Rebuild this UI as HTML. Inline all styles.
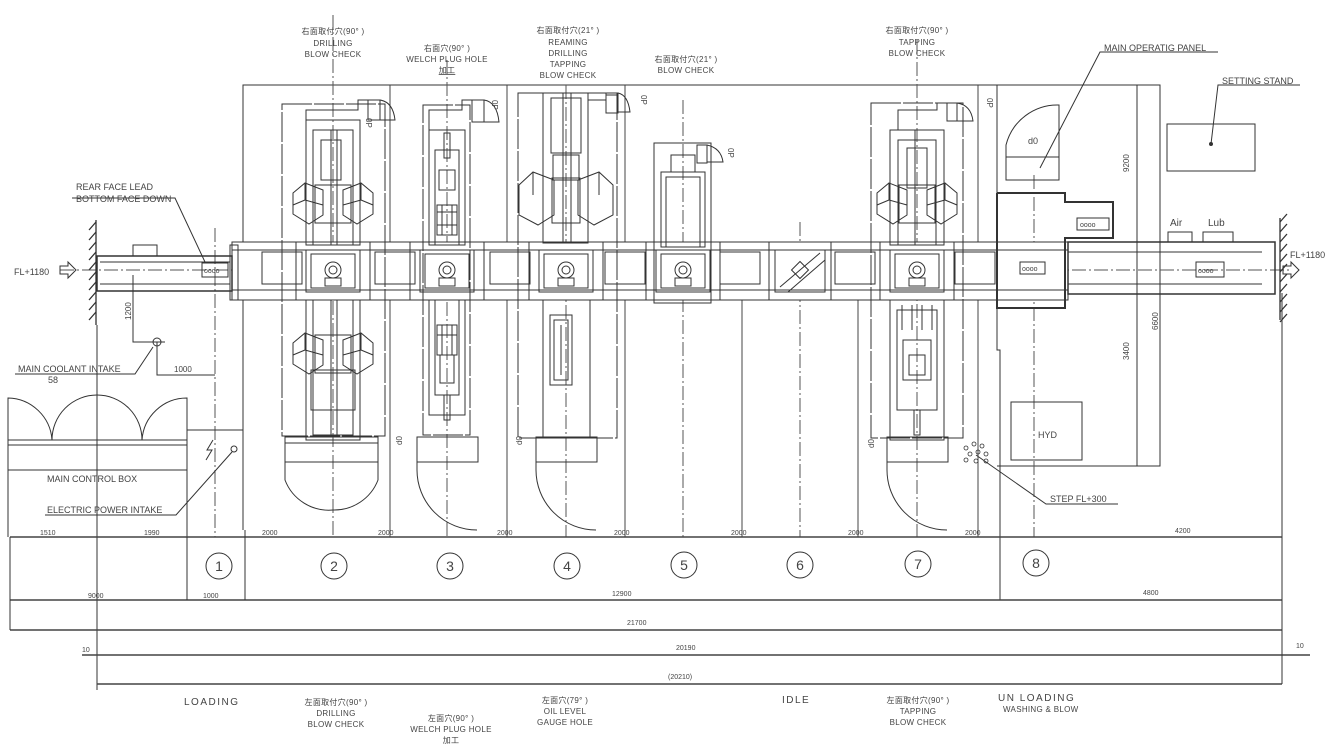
<!DOCTYPE html>
<html><head><meta charset="utf-8"><style>
html,body{margin:0;padding:0;background:#fff;}
svg{display:block}
text{font-family:"Liberation Sans Narrow","Liberation Sans","Noto Sans CJK JP",sans-serif;fill:#444;stroke:none}
.s{font-size:8px;letter-spacing:0.3px}
.m{font-size:10px;letter-spacing:1.5px}
</style></head><body>
<svg width="1334" height="744" viewBox="0 0 1334 744" xmlns="http://www.w3.org/2000/svg" fill="none" stroke="#333" stroke-width="1">
<defs>
<g id="hexT">
<polygon points="-40,193 -28,183 -10,190 -10,215 -24,224 -40,214"/>
<polygon points="40,193 28,183 10,190 10,215 24,224 40,214"/>
<line x1="-28" y1="183" x2="-28" y2="200"/><line x1="-28" y1="200" x2="-10" y2="205"/><line x1="-28" y1="200" x2="-40" y2="205"/>
<line x1="28" y1="183" x2="28" y2="200"/><line x1="28" y1="200" x2="10" y2="205"/><line x1="28" y1="200" x2="40" y2="205"/>
<rect x="-18" y="185" width="36" height="38"/>
</g>
<g id="body">
<rect x="-37" y="242" width="74" height="58"/>
<rect x="-27" y="250" width="54" height="42"/>
<rect x="-22" y="254" width="44" height="34"/>
<circle cx="0" cy="270" r="8"/><circle cx="0" cy="270" r="4"/>
<rect x="-8" y="278" width="16" height="8"/>
</g>
</defs>

<!-- top frame -->
<polyline points="243,530 243,85 1160,85 1160,466 997,466"/>
<line x1="1137" y1="85" x2="1137" y2="466"/>
<line x1="997" y1="85" x2="997" y2="193"/>
<g stroke-dasharray="14,3,2,3" stroke="#555">
<line x1="333" y1="15" x2="333" y2="537"/><line x1="447" y1="60" x2="447" y2="537"/>
<line x1="566" y1="85" x2="566" y2="537"/><line x1="683" y1="100" x2="683" y2="537"/>
<line x1="800" y1="222" x2="800" y2="537"/><line x1="917" y1="40" x2="917" y2="537"/>
<line x1="1034" y1="175" x2="1034" y2="537"/><line x1="215" y1="228" x2="215" y2="537"/>
<line x1="60" y1="270" x2="1290" y2="270"/>
</g>
<g stroke="#444"><line x1="390" y1="85" x2="390" y2="537"/><line x1="507" y1="85" x2="507" y2="537"/><line x1="625" y1="85" x2="625" y2="537"/>
<line x1="742" y1="300" x2="742" y2="537"/><line x1="858" y1="300" x2="858" y2="537"/><line x1="978" y1="85" x2="978" y2="537"/></g>

<!-- main conveyor -->
<rect x="232" y="242" width="836" height="58" fill="#fff"/>
<line x1="232" y1="250" x2="1068" y2="250"/><line x1="232" y1="290" x2="1068" y2="290"/>
<g>
<rect x="262" y="252" width="40" height="32"/><rect x="375" y="252" width="40" height="32"/><rect x="490" y="252" width="40" height="32"/>
<rect x="605" y="252" width="40" height="32"/><rect x="720" y="252" width="40" height="32"/><rect x="835" y="252" width="40" height="32"/><rect x="955" y="252" width="40" height="32"/>
</g>

<!-- Station 2 -->
<g transform="translate(333,0)">
<rect x="-51" y="104" width="103" height="332" stroke-dasharray="30,2"/>
<rect x="-27" y="120" width="54" height="125"/><rect x="-20" y="130" width="40" height="115"/>
<rect x="-12" y="140" width="20" height="40"/><line x1="-2" y1="130" x2="-2" y2="245"/><line x1="4" y1="130" x2="4" y2="245"/>
<path d="M-27,120 V110 H25 V100 H35"/><rect x="35" y="100" width="12" height="20"/>
<path d="M47,100 Q60,102 62,120 H47"/>
<use href="#hexT"/>
<use href="#body"/>
<rect x="-27" y="300" width="54" height="140"/><rect x="-20" y="300" width="40" height="135"/>
<g transform="translate(0,150)"><use href="#hexT"/></g>
<rect x="-22" y="370" width="44" height="40"/><line x1="-2" y1="300" x2="-2" y2="437"/><line x1="4" y1="300" x2="4" y2="437"/>
<rect x="-48" y="437" width="93" height="25"/><line x1="-48" y1="443" x2="45" y2="443"/>
<path d="M-48,462 V480 A47,47 0 0 0 0,510 M45,462 V480 A47,47 0 0 1 0,510"/>
</g>
<text class="s" x="333" y="34" text-anchor="middle">右面取付穴(90° )</text>
<text class="s" x="333" y="46" text-anchor="middle">DRILLING</text>
<text class="s" x="333" y="57" text-anchor="middle">BLOW CHECK</text>
<text x="366" y="118" font-size="8" transform="rotate(90 366 118)">0P</text>

<!-- Station 3 -->
<g transform="translate(447,0)">
<rect x="-24" y="105" width="47" height="330" stroke-dasharray="30,2"/>
<rect x="-18" y="130" width="36" height="115"/><rect x="-12" y="150" width="24" height="95"/>
<rect x="-8" y="170" width="16" height="20"/><rect x="-10" y="205" width="20" height="30"/>
<line x1="-10" y1="212" x2="10" y2="212"/><line x1="-10" y1="225" x2="10" y2="225"/>
<line x1="-5" y1="205" x2="-5" y2="235"/><line x1="5" y1="205" x2="5" y2="235"/>
<rect x="-3" y="133" width="6" height="25"/>
<path d="M-18,130 V110 H15 V100 H25"/><rect x="25" y="100" width="12" height="22"/>
<path d="M37,100 Q50,102 52,122 H37"/>
<use href="#body"/>
<rect x="-18" y="300" width="36" height="115"/><rect x="-12" y="300" width="24" height="95"/>
<rect x="-10" y="325" width="20" height="30"/><line x1="-10" y1="335" x2="10" y2="335"/><rect x="-7" y="355" width="14" height="28"/>
<line x1="-5" y1="325" x2="-5" y2="355"/><line x1="5" y1="325" x2="5" y2="355"/>
<rect x="-3" y="395" width="6" height="25"/>
<rect x="-30" y="437" width="61" height="25"/>
<path d="M-30,462 V470 A60,60 0 0 0 30,530"/>
</g>
<text class="s" x="447" y="51" text-anchor="middle">右面穴(90° )</text>
<text class="s" x="447" y="62" text-anchor="middle">WELCH PLUG HOLE</text>
<text class="s" x="447" y="73" text-anchor="middle" text-decoration="underline">加工</text>
<text x="492" y="100" font-size="8" transform="rotate(90 492 100)">0P</text>
<text x="402" y="445" font-size="8" transform="rotate(-90 402 445)">d0</text>

<!-- Station 4 -->
<g transform="translate(566,0)">
<rect x="-48" y="93" width="99" height="345" stroke-dasharray="30,2"/>
<rect x="-23" y="93" width="45" height="150"/><rect x="-15" y="98" width="30" height="55"/>
<rect x="-13" y="155" width="26" height="25"/><line x1="-3" y1="93" x2="-3" y2="243"/><line x1="5" y1="93" x2="5" y2="243"/>
<path d="M22,100 H40 V95 H52"/><rect x="40" y="93" width="12" height="20"/><path d="M52,93 Q62,95 64,112 H52"/>
<polygon points="-47,185 -33,172 -12,180 -12,215 -28,225 -47,215"/>
<polygon points="47,185 33,172 12,180 12,215 28,225 47,215"/>
<line x1="-33" y1="172" x2="-33" y2="195"/><line x1="33" y1="172" x2="33" y2="195"/>
<rect x="-14" y="178" width="28" height="45"/>
<use href="#body"/>
<rect x="-23" y="300" width="47" height="138"/><rect x="-16" y="315" width="22" height="70"/><rect x="-12" y="320" width="14" height="60"/>
<line x1="-5" y1="325" x2="-5" y2="375"/>
<rect x="-30" y="437" width="61" height="25"/>
<path d="M-30,462 V470 A60,60 0 0 0 30,530"/>
</g>
<text class="s" x="568" y="33" text-anchor="middle">右面取付穴(21° )</text>
<text class="s" x="568" y="45" text-anchor="middle">REAMING</text>
<text class="s" x="568" y="56" text-anchor="middle">DRILLING</text>
<text class="s" x="568" y="67" text-anchor="middle">TAPPING</text>
<text class="s" x="568" y="78" text-anchor="middle">BLOW CHECK</text>
<text x="641" y="95" font-size="8" transform="rotate(90 641 95)">0P</text>
<text x="522" y="445" font-size="8" transform="rotate(-90 522 445)">d0</text>

<!-- Station 5 -->
<g transform="translate(683,0)">
<rect x="-29" y="143" width="57" height="160"/><rect x="-22" y="172" width="44" height="75"/><rect x="-17" y="177" width="34" height="70"/>
<rect x="-12" y="155" width="24" height="17"/><rect x="14" y="145" width="10" height="18"/><path d="M24,145 Q38,148 40,162 H24"/>
<use href="#body"/>
</g>
<text class="s" x="686" y="62" text-anchor="middle">右面取付穴(21° )</text>
<text class="s" x="686" y="73" text-anchor="middle">BLOW CHECK</text>
<text x="728" y="148" font-size="8" transform="rotate(90 728 148)">0P</text>

<!-- Station 6 -->
<g transform="translate(800,0)">
<rect x="-31" y="242" width="62" height="58"/><rect x="-25" y="250" width="50" height="42"/>
<line x1="-20" y1="287" x2="20" y2="253"/><line x1="-12" y1="292" x2="25" y2="260"/>
<rect x="-6" y="264" width="12" height="12" transform="rotate(45 0 270)"/>
</g>

<!-- Station 7 -->
<g transform="translate(917,0)">
<rect x="-46" y="103" width="92" height="335" stroke-dasharray="30,2"/>
<rect x="-27" y="130" width="54" height="115"/><rect x="-19" y="140" width="38" height="105"/>
<rect x="-10" y="148" width="20" height="40"/><line x1="-2" y1="130" x2="-2" y2="245"/>
<path d="M-19,130 V110 H20 V103 H30"/><rect x="30" y="103" width="10" height="18"/><path d="M40,103 Q54,105 56,121 H40"/>
<use href="#hexT"/>
<use href="#body"/>
<rect x="-27" y="300" width="54" height="140"/><rect x="-20" y="310" width="40" height="100"/>
<rect x="-14" y="340" width="28" height="40"/><rect x="-8" y="355" width="16" height="20"/>
<line x1="-15" y1="305" x2="-15" y2="330"/><line x1="-5" y1="305" x2="-5" y2="330"/><line x1="5" y1="305" x2="5" y2="330"/><line x1="15" y1="305" x2="15" y2="330"/>
<rect x="-3" y="410" width="6" height="25"/>
<rect x="-30" y="437" width="61" height="25"/>
<path d="M-30,462 V470 A60,60 0 0 0 30,530"/>
</g>
<text class="s" x="917" y="33" text-anchor="middle">右面取付穴(90° )</text>
<text class="s" x="917" y="45" text-anchor="middle">TAPPING</text>
<text class="s" x="917" y="56" text-anchor="middle">BLOW CHECK</text>
<text x="987" y="98" font-size="8" transform="rotate(90 987 98)">0P</text>
<text x="874" y="448" font-size="8" transform="rotate(-90 874 448)">d0</text>

<!-- Unloading station 8 -->
<path d="M1006,180 V145 A53,53 0 0 1 1059,105 V180 Z"/><line x1="1006" y1="157" x2="1059" y2="157"/>
<text x="1028" y="144" font-size="9">d0</text>
<polyline points="997,193 1065,193 1065,202 1113,202 1113,238 1065,238 1065,308 997,308 997,193" stroke-width="2"/>
<rect x="1077" y="218" width="32" height="12"/><text x="1080" y="227" font-size="7">oooo</text>
<rect x="1020" y="262" width="25" height="12"/><text x="1022" y="271" font-size="7">oooo</text>
<polyline points="997,308 997,350 1000,350 1000,600"/>
<rect x="1068" y="242" width="207" height="52" stroke-width="1.5"/>
<line x1="1068" y1="252" x2="1262" y2="252"/><line x1="1068" y1="284" x2="1262" y2="284"/>
<rect x="1196" y="262" width="28" height="15"/><text x="1198" y="273" font-size="7">oooo</text>
<rect x="1168" y="232" width="24" height="10"/><rect x="1203" y="232" width="30" height="10"/>
<text x="1170" y="226" font-size="10">Air</text><text x="1208" y="226" font-size="10">Lub</text>
<line x1="1282" y1="293" x2="1282" y2="537"/>
<g stroke-width="1.3"><line x1="1280" y1="218" x2="1280" y2="320"/>
<path d="M1280,222 l7,-8 M1280,232 l7,-8 M1280,242 l7,-8 M1280,252 l7,-8 M1280,262 l7,-8 M1280,272 l7,-8 M1280,282 l7,-8 M1280,292 l7,-8 M1280,302 l7,-8 M1280,312 l7,-8 M1280,322 l7,-8"/></g>
<path d="M1283,266 h8 v-4 l8,8 -8,8 v-4 h-8 z"/>
<text x="1290" y="258" font-size="9">FL+1180</text>
<rect x="1167" y="124" width="88" height="47"/><circle cx="1211" cy="144" r="1.5" fill="#333"/>
<polyline points="1211,144 1218,85 1300,85"/><text x="1222" y="84" font-size="9">SETTING STAND</text>
<polyline points="1040,168 1100,52 1218,52"/><text x="1104" y="51" font-size="9">MAIN OPERATIG PANEL</text>
<rect x="1011" y="402" width="71" height="58"/><text x="1038" y="438" font-size="9">HYD</text>
<g stroke-width="0.8"><circle cx="966" cy="448" r="2"/><circle cx="974" cy="444" r="2"/><circle cx="982" cy="446" r="2"/><circle cx="970" cy="454" r="2"/><circle cx="978" cy="452" r="2"/><circle cx="986" cy="454" r="2"/><circle cx="966" cy="460" r="2"/><circle cx="976" cy="461" r="2"/><circle cx="986" cy="461" r="2"/></g>
<polyline points="976,455 1046,504 1118,504"/><text x="1050" y="502" font-size="9">STEP FL+300</text>
<text x="1129" y="172" font-size="8" transform="rotate(-90 1129 172)">9200</text>
<text x="1129" y="360" font-size="8" transform="rotate(-90 1129 360)">3400</text>
<text x="1158" y="330" font-size="8" transform="rotate(-90 1158 330)">6600</text>

<!-- Left loading -->
<g stroke-width="1.3"><line x1="96" y1="220" x2="96" y2="325"/>
<path d="M96,222 l-7,8 M96,232 l-7,8 M96,242 l-7,8 M96,252 l-7,8 M96,262 l-7,8 M96,272 l-7,8 M96,282 l-7,8 M96,292 l-7,8 M96,302 l-7,8 M96,312 l-7,8"/></g>
<line x1="97" y1="325" x2="97" y2="690"/>
<rect x="97" y="256" width="135" height="35" stroke-width="1.5"/>
<line x1="100" y1="262" x2="230" y2="262"/><line x1="100" y1="284" x2="230" y2="284"/>
<rect x="133" y="245" width="24" height="11"/>
<rect x="202" y="263" width="26" height="14"/><text x="204" y="273" font-size="7">oooo</text>
<rect x="230" y="245" width="8" height="55"/>
<path d="M60,266 h8 v-4 l8,8 -8,8 v-4 h-8 z"/>
<text x="14" y="275" font-size="9">FL+1180</text>
<polyline points="205,262 175,198 72,198"/>
<text x="76" y="190" font-size="9">REAR FACE LEAD</text><text x="76" y="202" font-size="9">BOTTOM FACE DOWN</text>
<polyline points="133,275 133,342 165,342"/><circle cx="157" cy="342" r="4"/>
<text x="131" y="320" font-size="8" transform="rotate(-90 131 320)">1200</text>
<polyline points="157,342 157,375 215,375"/><text x="174" y="372" font-size="8">1000</text>
<polyline points="153,347 135,374 15,374"/><text x="18" y="372" font-size="9">MAIN COOLANT INTAKE</text><text x="48" y="383" font-size="9">58</text>
<path d="M8,440 V398 A45,45 0 0 1 52,440 A45,45 0 0 1 142,440 A45,45 0 0 1 187,398 V440"/>
<rect x="8" y="440" width="179" height="30"/><line x1="8" y1="445" x2="187" y2="445"/>
<line x1="8" y1="470" x2="8" y2="537"/>
<text x="47" y="482" font-size="9">MAIN CONTROL BOX</text>
<polyline points="187,430 243,430"/><line x1="187" y1="430" x2="187" y2="537"/>
<path d="M213,440 l-6,10 5,0 -6,10" /><circle cx="234" cy="449" r="3"/>
<polyline points="232,452 176,515 45,515"/><text x="47" y="513" font-size="9">ELECTRIC POWER INTAKE</text>

<!-- Dimension rows -->
<g stroke-width="1.5" stroke="#444">
<line x1="10" y1="537" x2="1282" y2="537"/>
<line x1="10" y1="600" x2="1282" y2="600"/>
<line x1="10" y1="630" x2="1282" y2="630"/>
<line x1="82" y1="655" x2="1310" y2="655"/>
<line x1="97" y1="684" x2="1282" y2="684"/>
</g>
<line x1="10" y1="537" x2="10" y2="630"/><line x1="187" y1="537" x2="187" y2="600"/><line x1="245" y1="530" x2="245" y2="600"/>
<line x1="1282" y1="537" x2="1282" y2="684"/>
<g>
<text x="40" y="535" font-size="7">1510</text><text x="144" y="535" font-size="7">1990</text>
<text x="262" y="535" font-size="7">2000</text><text x="378" y="535" font-size="7">2000</text><text x="497" y="535" font-size="7">2000</text>
<text x="614" y="535" font-size="7">2000</text><text x="731" y="535" font-size="7">2000</text><text x="848" y="535" font-size="7">2000</text>
<text x="965" y="535" font-size="7">2000</text><text x="1175" y="533" font-size="7">4200</text>
<text x="88" y="598" font-size="7">9000</text><text x="203" y="598" font-size="7">1000</text><text x="612" y="596" font-size="7">12900</text><text x="1143" y="595" font-size="7">4800</text>
<text x="627" y="625" font-size="7">21700</text><text x="676" y="650" font-size="7">20190</text><text x="668" y="679" font-size="7">(20210)</text>
<text x="82" y="652" font-size="7">10</text><text x="1296" y="648" font-size="7">10</text>
</g>
<g text-anchor="middle" stroke-width="1">
<circle cx="219" cy="566" r="13"/><text x="219" y="571" font-size="14">1</text>
<circle cx="334" cy="566" r="13"/><text x="334" y="571" font-size="14">2</text>
<circle cx="450" cy="566" r="13"/><text x="450" y="571" font-size="14">3</text>
<circle cx="567" cy="566" r="13"/><text x="567" y="571" font-size="14">4</text>
<circle cx="684" cy="565" r="13"/><text x="684" y="570" font-size="14">5</text>
<circle cx="800" cy="565" r="13"/><text x="800" y="570" font-size="14">6</text>
<circle cx="918" cy="564" r="13"/><text x="918" y="569" font-size="14">7</text>
<circle cx="1036" cy="563" r="13"/><text x="1036" y="568" font-size="14">8</text>
</g>

<!-- bottom labels -->
<text class="m" x="184" y="705">LOADING</text>
<text class="s" x="336" y="705" text-anchor="middle">左面取付穴(90° )</text>
<text class="s" x="336" y="716" text-anchor="middle">DRILLING</text>
<text class="s" x="336" y="727" text-anchor="middle">BLOW CHECK</text>
<text class="s" x="451" y="721" text-anchor="middle">左面穴(90° )</text>
<text class="s" x="451" y="732" text-anchor="middle">WELCH PLUG HOLE</text>
<text class="s" x="451" y="743" text-anchor="middle">加工</text>
<text class="s" x="565" y="703" text-anchor="middle">左面穴(79° )</text>
<text class="s" x="565" y="714" text-anchor="middle">OIL LEVEL</text>
<text class="s" x="565" y="725" text-anchor="middle">GAUGE HOLE</text>
<text class="m" x="782" y="703">IDLE</text>
<text class="s" x="918" y="703" text-anchor="middle">左面取付穴(90° )</text>
<text class="s" x="918" y="714" text-anchor="middle">TAPPING</text>
<text class="s" x="918" y="725" text-anchor="middle">BLOW CHECK</text>
<text class="m" x="998" y="701">UN LOADING</text>
<text class="s" x="1003" y="712">WASHING &amp; BLOW</text>
</svg>
</body></html>
